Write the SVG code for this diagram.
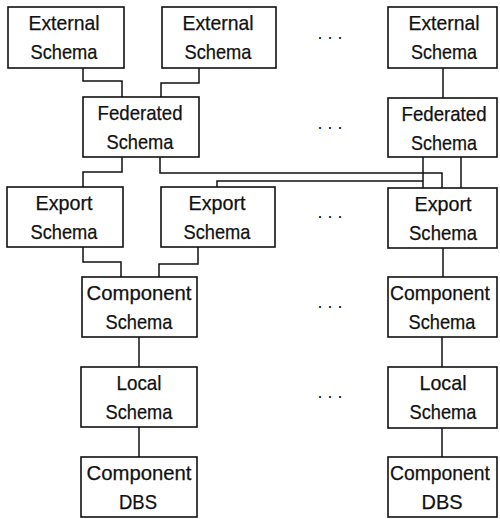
<svg xmlns="http://www.w3.org/2000/svg" width="500" height="519" viewBox="0 0 500 519">
<style>
.box{fill:#fff;stroke:#111;stroke-width:1.6}
.t{font-family:"Liberation Sans",Arial,sans-serif;font-size:21px;fill:#111;text-anchor:middle;stroke:#111;stroke-width:0.25}
.c{fill:none;stroke:#111;stroke-width:1.5}
.d{font-family:"Liberation Sans",Arial,sans-serif;font-size:18px;fill:#111}
</style>
<rect width="500" height="519" fill="#fff"/>
<g id="connectors">
<path class="c" d="M83,68 V81 H122 V97"/>
<path class="c" d="M199,68 V83 H161 V97"/>
<path class="c" d="M443,68 V98"/>
<path class="c" d="M122,157 V172 H83 V187"/>
<path class="c" d="M160,157 V173 H442 V188"/>
<path class="c" d="M423,157 V188"/>
<path class="c" d="M423,181 H217 V187"/>
<path class="c" d="M461,157 V188"/>
<path class="c" d="M83,247 V262 H121 V277"/>
<path class="c" d="M198,247 V264 H159 V277"/>
<path class="c" d="M443,248 V277"/>
<path class="c" d="M139,337 V367"/>
<path class="c" d="M139,427 V457"/>
<path class="c" d="M442,337 V367"/>
<path class="c" d="M442,427 V457"/>
</g>
<g id="ext1"><rect class="box" x="8" y="7" width="116" height="61"/><text class="t" x="64" y="30" textLength="71" lengthAdjust="spacingAndGlyphs">External</text><text class="t" x="64" y="59" textLength="67" lengthAdjust="spacingAndGlyphs">Schema</text></g>
<g id="ext2"><rect class="box" x="162" y="7" width="114" height="61"/><text class="t" x="218" y="30" textLength="71" lengthAdjust="spacingAndGlyphs">External</text><text class="t" x="218" y="59" textLength="67" lengthAdjust="spacingAndGlyphs">Schema</text></g>
<g id="extN"><rect class="box" x="388" y="7" width="109" height="61"/><text class="t" x="444" y="30" textLength="71" lengthAdjust="spacingAndGlyphs">External</text><text class="t" x="444" y="59" textLength="66" lengthAdjust="spacingAndGlyphs">Schema</text></g>
<g id="fed1"><rect class="box" x="83" y="97" width="116" height="60"/><text class="t" x="140" y="120" textLength="85" lengthAdjust="spacingAndGlyphs">Federated</text><text class="t" x="140" y="149" textLength="67" lengthAdjust="spacingAndGlyphs">Schema</text></g>
<g id="fedN"><rect class="box" x="388" y="98" width="109" height="59"/><text class="t" x="444" y="121" textLength="85" lengthAdjust="spacingAndGlyphs">Federated</text><text class="t" x="444" y="150" textLength="66" lengthAdjust="spacingAndGlyphs">Schema</text></g>
<g id="exp1"><rect class="box" x="7" y="187" width="116" height="60"/><text class="t" x="64" y="210" textLength="57" lengthAdjust="spacingAndGlyphs">Export</text><text class="t" x="64" y="239" textLength="67" lengthAdjust="spacingAndGlyphs">Schema</text></g>
<g id="exp2"><rect class="box" x="161" y="187" width="114" height="60"/><text class="t" x="217" y="210" textLength="57" lengthAdjust="spacingAndGlyphs">Export</text><text class="t" x="217" y="239" textLength="67" lengthAdjust="spacingAndGlyphs">Schema</text></g>
<g id="expN"><rect class="box" x="388" y="188" width="109" height="60"/><text class="t" x="443" y="211" textLength="57" lengthAdjust="spacingAndGlyphs">Export</text><text class="t" x="443" y="240" textLength="68" lengthAdjust="spacingAndGlyphs">Schema</text></g>
<g id="comp1"><rect class="box" x="82" y="277" width="115" height="60"/><text class="t" x="139" y="300" textLength="105" lengthAdjust="spacingAndGlyphs">Component</text><text class="t" x="139" y="329" textLength="67" lengthAdjust="spacingAndGlyphs">Schema</text></g>
<g id="compN"><rect class="box" x="388" y="277" width="109" height="60"/><text class="t" x="440" y="300" textLength="100" lengthAdjust="spacingAndGlyphs">Component</text><text class="t" x="442" y="329" textLength="67" lengthAdjust="spacingAndGlyphs">Schema</text></g>
<g id="local1"><rect class="box" x="81" y="367" width="116" height="60"/><text class="t" x="139" y="390" textLength="45" lengthAdjust="spacingAndGlyphs">Local</text><text class="t" x="139" y="419" textLength="67" lengthAdjust="spacingAndGlyphs">Schema</text></g>
<g id="localN"><rect class="box" x="388" y="367" width="109" height="61"/><text class="t" x="443" y="390" textLength="47" lengthAdjust="spacingAndGlyphs">Local</text><text class="t" x="443" y="419" textLength="67" lengthAdjust="spacingAndGlyphs">Schema</text></g>
<g id="dbs1"><rect class="box" x="81" y="457" width="116" height="60"/><text class="t" x="139" y="480" textLength="105" lengthAdjust="spacingAndGlyphs">Component</text><text class="t" x="138" y="509" textLength="38" lengthAdjust="spacingAndGlyphs">DBS</text></g>
<g id="dbsN"><rect class="box" x="388" y="457" width="109" height="60"/><text class="t" x="440" y="480" textLength="100" lengthAdjust="spacingAndGlyphs">Component</text><text class="t" x="442" y="509" textLength="41" lengthAdjust="spacingAndGlyphs">DBS</text></g>
<g id="dots">
<text class="d" x="317.5 327.5 337.5" y="39">...</text>
<text class="d" x="317.5 327.5 337.5" y="129">...</text>
<text class="d" x="317.5 327.5 337.5" y="218">...</text>
<text class="d" x="317.5 327.5 337.5" y="308">...</text>
<text class="d" x="317.5 327.5 337.5" y="398">...</text>
</g>
</svg>
